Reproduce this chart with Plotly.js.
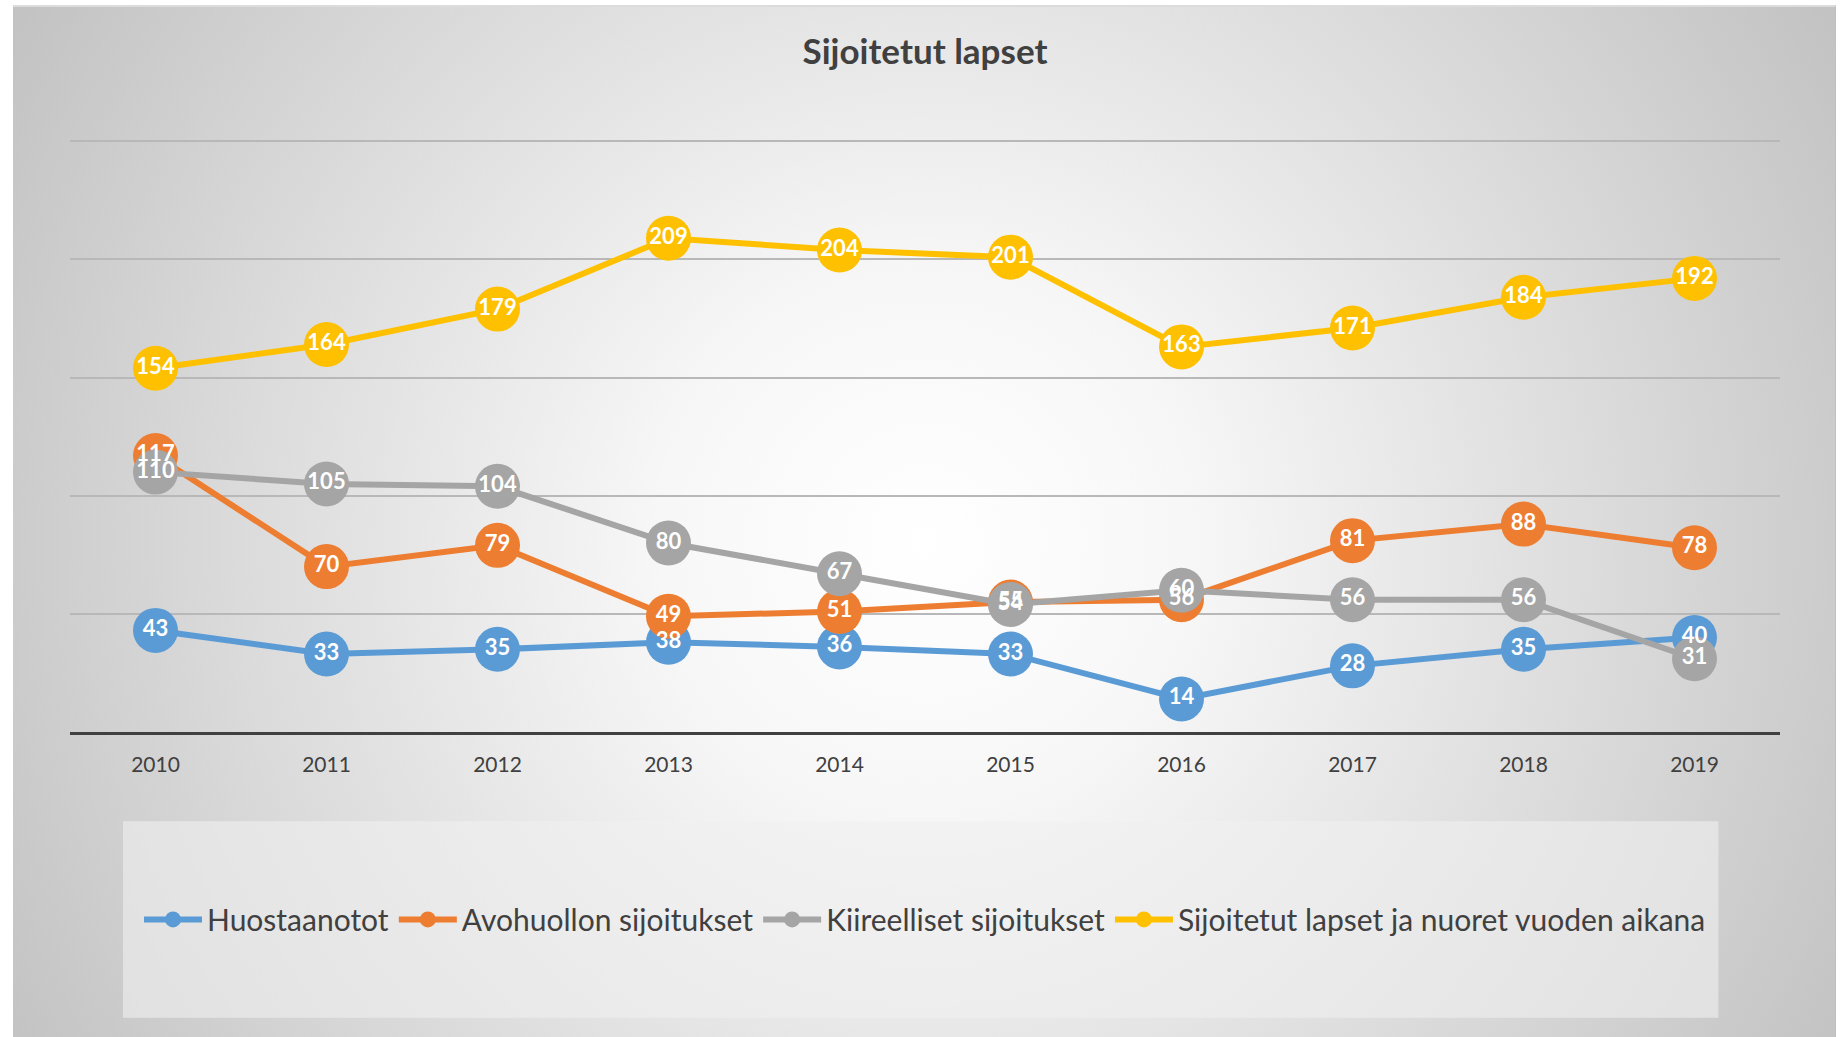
<!DOCTYPE html>
<html>
<head>
<meta charset="utf-8">
<script src="https://cdn.plot.ly/plotly-3.0.1.min.js"></script>
<style>
  html, body { margin: 0; padding: 0; background: #ffffff; }
  #wrap { position: relative; width: 1840px; height: 1037px; overflow: hidden; }
  #bg {
    position: absolute; left: 13px; top: 5px; width: 1822px; height: 1032px;
    border-top: 2px solid #dcdcdc; border-right: 1px solid #c0c0c0;
    background: radial-gradient(circle farthest-corner at 912px 535px, #ffffff 0%, #f7f7f7 25%, #c2c2c2 100%);
  }
  #chart { position: absolute; left: 0; top: 0; width: 1840px; height: 1037px; }
</style>
</head>
<body>
<div id="wrap">
  <div id="bg"></div>
  <div id="chart"></div>
</div>
<script>
// Sijoitetut lapset 2010-2019
const years = ['2010', '2011', '2012', '2013', '2014', '2015', '2016', '2017', '2018', '2019'];
const huostaanotot = [43, 33, 35, 38, 36, 33, 14, 28, 35, 40];
const avohuollon = [117, 70, 79, 49, 51, 55, 56, 81, 88, 78];
const kiireelliset = [110, 105, 104, 80, 67, 54, 60, 56, 56, 31];
const sijoitetut = [154, 164, 179, 209, 204, 201, 163, 171, 184, 192];

const seriesNames = [
    'Huostaanotot',
    'Avohuollon sijoitukset',
    'Kiireelliset sijoitukset',
    'Sijoitetut lapset ja nuoret vuoden aikana'
];
const seriesValues = [huostaanotot, avohuollon, kiireelliset, sijoitetut];
const seriesColors = ['#5b9bd5', '#ed7d31', '#a5a5a5', '#ffc000'];

const FONT = 'Lato, "Open Sans", sans-serif';

// line + marker traces
const lineTraces = seriesValues.map((vals, i) => ({
    x: years,
    y: vals,
    name: seriesNames[i],
    type: 'scatter',
    mode: 'lines+markers',
    line: { color: seriesColors[i], width: 6 },
    marker: { color: seriesColors[i], size: 45 },
    cliponaxis: false,
    hoverinfo: 'x+y+name'
}));

// data labels drawn on top of all markers (like Excel)
const labelTraces = seriesValues.map((vals, i) => ({
    x: years,
    y: vals,
    type: 'scatter',
    mode: 'text',
    text: vals.map(String),
    textposition: 'middle center',
    textfont: { family: FONT, size: 22, color: '#ffffff', weight: 700 },
    showlegend: false,
    cliponaxis: false,
    hoverinfo: 'skip'
}));

const layout = {
    width: 1840,
    height: 1037,
    paper_bgcolor: 'rgba(0,0,0,0)',
    plot_bgcolor: 'rgba(0,0,0,0)',
    margin: { l: 70, r: 60, t: 139, b: 305 },
    title: {
        text: '<b>Sijoitetut lapset</b>',
        font: { family: FONT, size: 35, color: '#404040' },
        x: 0.5,
        xref: 'paper',
        y: 1 - 52 / 1037,
        yanchor: 'middle'
    },
    xaxis: {
        type: 'category',
        range: [-0.5, 9.5],
        showgrid: false,
        showline: true,
        linecolor: '#404040',
        linewidth: 3,
        ticks: '',
        ticklabelstandoff: 12,
        tickfont: { family: FONT, size: 21, color: '#404040' },
        zeroline: false
    },
    yaxis: {
        range: [0, 251],
        dtick: 50,
        showticklabels: false,
        gridcolor: '#b8b8b8',
        gridwidth: 1.5,
        zeroline: false,
        showline: false
    },
    showlegend: true,
    legend: {
        orientation: 'h',
        x: 0.5,
        xanchor: 'center',
        y: -0.316,
        yanchor: 'middle',
        bgcolor: 'rgba(0,0,0,0)',
        font: { family: FONT, size: 30, color: '#404040' },
        itemwidth: 58,
        traceorder: 'normal'
    },
    shapes: [{
        type: 'rect',
        xref: 'paper', yref: 'paper',
        x0: 0.031, x1: 0.964,
        y0: -0.482, y1: -0.1506,
        fillcolor: 'rgba(240,240,240,0.6)',
        line: { width: 0 },
        layer: 'below'
    }]
};

const config = { displayModeBar: false, responsive: false };

Plotly.newPlot('chart', lineTraces.concat(labelTraces), layout, config);
</script>
</body>
</html>
